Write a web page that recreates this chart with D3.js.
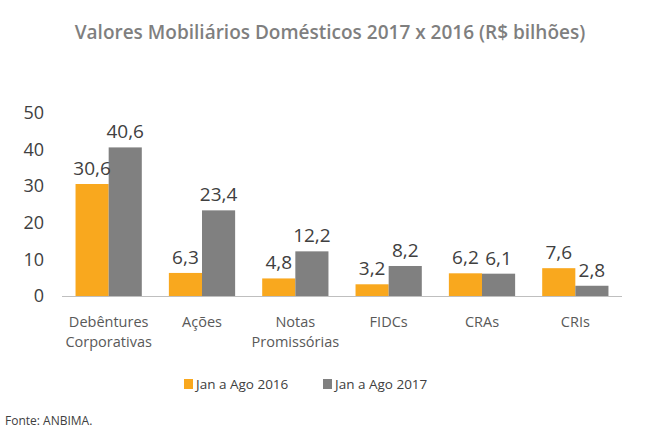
<!DOCTYPE html>
<html>
<head>
<meta charset="utf-8">
<script src="https://d3js.org/d3.v7.min.js"></script>
<style>
  body { margin: 0; background: #fff; }
  text { font-family: "Open Sans", "Noto Sans", sans-serif; }
</style>
</head>
<body>
<div id="chart"></div>
<script>
// data
const categories = [["Debêntures", "Corporativas"], ["Ações"], ["Notas", "Promissórias"], ["FIDCs"], ["CRAs"], ["CRIs"]];
const series = ["Jan a Ago 2016", "Jan a Ago 2017"];
const values2016 = [30.6, 6.3, 4.8, 3.2, 6.2, 7.6];
const values2017 = [40.6, 23.4, 12.2, 8.2, 6.1, 2.8];
const yTicks = [0, 10, 20, 30, 40, 50];
const colors = ["#F9A81E", "#808080"];

const width = 650, height = 440;
const margin = {top: 113, right: 28, bottom: 144, left: 62};

const svg = d3.select("#chart").append("svg")
  .attr("width", width)
  .attr("height", height);

svg.append("text")
  .attr("x", 330).attr("y", 39)
  .attr("text-anchor", "middle")
  .attr("font-size", 19)
  .attr("font-weight", 600)
  .attr("fill", "#7f7f7f")
  .text("Valores Mobiliários Domésticos 2017 x 2016 (R$ bilhões)");

const x0 = d3.scaleBand()
  .domain(d3.range(categories.length))
  .range([margin.left, width - margin.right])
  .paddingInner(0.29)
  .paddingOuter(0.145);

const x1 = d3.scaleBand()
  .domain([0, 1])
  .range([0, x0.bandwidth()]);

const y = d3.scaleLinear()
  .domain([0, 50])
  .range([height - margin.bottom, margin.top]);

// y axis labels (no line)
const yAxis = svg.append("g")
  .attr("transform", `translate(${margin.left - 18},0)`)
  .call(d3.axisLeft(y).tickValues(yTicks).tickSize(0).tickPadding(0));
yAxis.select(".domain").remove();
yAxis.selectAll("text")
  .attr("font-size", 18)
  .attr("fill", "#404040")
  .attr("font-family", "Open Sans, sans-serif");

const rows = categories.map((c, i) => ({i, vals: [values2016[i], values2017[i]]}));

const groups = svg.selectAll("g.grp")
  .data(rows)
  .join("g")
  .attr("class", "grp")
  .attr("transform", d => `translate(${x0(d.i)},0)`);

groups.selectAll("rect")
  .data(d => d.vals.map((v, k) => ({v, k})))
  .join("rect")
  .attr("x", d => x1(d.k))
  .attr("y", d => y(d.v))
  .attr("width", x1.bandwidth())
  .attr("height", d => y(0) - y(d.v))
  .attr("fill", d => colors[d.k]);

groups.selectAll("text.lbl")
  .data(d => d.vals.map((v, k) => ({v, k})))
  .join("text")
  .attr("class", "lbl")
  .attr("x", d => x1(d.k) + x1.bandwidth() / 2)
  .attr("y", d => y(d.v) - 9)
  .attr("text-anchor", "middle")
  .attr("font-size", 19)
  .attr("fill", "#404040")
  .text(d => d3.format(".1f")(d.v).replace(".", ","));

// x axis line
svg.append("line")
  .attr("x1", margin.left).attr("x2", width - margin.right)
  .attr("y1", y(0) + 0.5).attr("y2", y(0) + 0.5)
  .attr("stroke", "#bfbfbf")
  .attr("stroke-width", 1.2);

// category labels, one text per line
const catLines = [];
categories.forEach((c, i) => c.forEach((t, j) => catLines.push({i, j, t})));
svg.selectAll("text.cat")
  .data(catLines)
  .join("text")
  .attr("class", "cat")
  .attr("x", d => x0(d.i) + x0.bandwidth() / 2)
  .attr("y", d => 327 + d.j * 20)
  .attr("text-anchor", "middle")
  .attr("font-size", 14.5)
  .attr("fill", "#595959")
  .text(d => d.t);

// legend
const legX = [184, 323];
const leg = svg.selectAll("g.leg")
  .data(series)
  .join("g")
  .attr("class", "leg")
  .attr("transform", (d, i) => `translate(${legX[i]},379)`);
leg.append("rect")
  .attr("width", 9).attr("height", 10)
  .attr("fill", (d, i) => colors[i]);
leg.append("text")
  .attr("x", 12).attr("y", 10)
  .attr("font-size", 13.5)
  .attr("fill", "#404040")
  .text(d => d);

svg.append("text")
  .attr("x", 5).attr("y", 425)
  .attr("font-size", 12)
  .attr("fill", "#404040")
  .text("Fonte: ANBIMA.");
</script>
</body>
</html>
